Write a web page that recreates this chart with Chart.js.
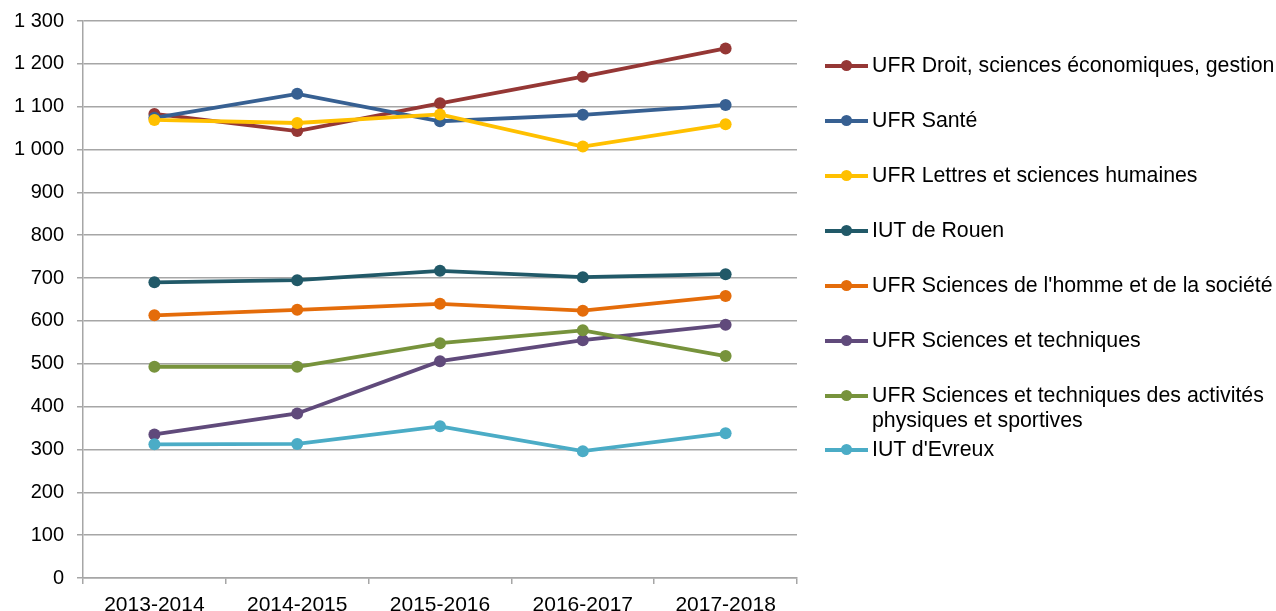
<!DOCTYPE html>
<html>
<head>
<meta charset="utf-8">
<script src="https://cdn.jsdelivr.net/npm/chart.js@4.4.1/dist/chart.umd.min.js"></script>
<style>
    html, body { margin: 0; padding: 0; background: #fff; overflow: hidden; }
    #wrap { position: relative; width: 1276px; height: 611px; }
    #legend {
        position: absolute; left: 825px; top: 53px; width: 450px;
        font-family: 'Liberation Sans', Arial, sans-serif; font-size: 21.3px; line-height: 25px; color: #000;
    }
    .item { display: flex; align-items: flex-start; margin-bottom: 30px; }
    .mark { position: relative; flex: 0 0 43px; height: 25px; margin-right: 4px; }
    .mark .ln { position: absolute; left: 0; right: 0; top: 11px; height: 3.5px; }
    .mark .dot { position: absolute; left: 16px; top: 7.25px; width: 11px; height: 11px; border-radius: 50%; }
</style>
</head>
<body>
<div id="wrap">
    <canvas id="chart" width="1276" height="611"></canvas>
    <div id="legend"></div>
</div>
<script>
// Données
const annees = ['2013-2014', '2014-2015', '2015-2016', '2016-2017', '2017-2018'];

const droit    = [1083, 1043, 1108, 1170, 1236];
const sante    = [1074, 1130, 1066, 1081, 1104];
const lettres  = [1069, 1062, 1082, 1007, 1059];
const iutRouen = [690, 695, 717, 702, 709];
const shs      = [613, 626, 640, 624, 658];
const sciTech  = [335, 384, 506, 555, 591];
const staps    = [493, 493, 548, 578, 518];
const iutEvreux = [312, 313, 354, 296, 338];

const composantes = [
    'UFR Droit, sciences économiques, gestion',
    'UFR Santé',
    'UFR Lettres et sciences humaines',
    'IUT de Rouen',
    "UFR Sciences de l'homme et de la société",
    'UFR Sciences et techniques',
    'UFR Sciences et techniques des activités physiques et sportives',
    "IUT d'Evreux"
];
const series = [droit, sante, lettres, iutRouen, shs, sciTech, staps, iutEvreux];
const couleurs = ['#953735', '#376092', '#FFC000', '#215968', '#E46C0A', '#604A7B', '#77933C', '#4BACC6'];

const police = "'Liberation Sans', Arial, sans-serif";

// Légende HTML à droite
const legend = document.getElementById('legend');
composantes.forEach((nom, i) => {
    const item = document.createElement('div');
    item.className = 'item';
    if (i === 6) item.style.marginBottom = '4px'; // légende sur deux lignes, Excel resserre
    item.innerHTML = '<span class="mark"><span class="ln" style="background:' + couleurs[i] + '"></span>' +
        '<span class="dot" style="background:' + couleurs[i] + '"></span></span><span>' + nom + '</span>';
    legend.appendChild(item);
});

new Chart(document.getElementById('chart'), {
    type: 'line',
    data: {
        labels: annees,
        datasets: series.map((data, i) => ({
            label: composantes[i],
            data: data,
            borderColor: couleurs[i],
            backgroundColor: couleurs[i],
            pointBackgroundColor: couleurs[i],
            pointBorderColor: couleurs[i],
            borderWidth: 3.8,
            pointRadius: 6,
            pointBorderWidth: 0,
            tension: 0,
            order: series.length - i // la dernière série passe au-dessus, comme dans Excel
        }))
    },
    options: {
        responsive: false,
        animation: false,
        layout: { padding: { top: 21, right: 479, left: 0, bottom: 0 } },
        plugins: {
            legend: { display: false },
            tooltip: { enabled: false }
        },
        scales: {
            x: {
                offset: true,
                grid: { offset: true, drawOnChartArea: false, color: '#a6a6a6', lineWidth: 1.5, tickLength: 6 },
                border: { color: '#a6a6a6', width: 1.5 },
                ticks: { color: '#000', font: { family: police, size: 21 }, padding: 9, maxRotation: 0 },
                afterFit: (s) => { s.height = 33; }
            },
            y: {
                min: 0,
                max: 1300,
                ticks: {
                    stepSize: 100,
                    color: '#000',
                    font: { family: police, size: 20 },
                    padding: 13,
                    callback: (v) => String(v).replace(/\B(?=(\d{3})+(?!\d))/g, ' ')
                },
                grid: { color: '#a6a6a6', lineWidth: 1.5, tickLength: 6 },
                border: { color: '#a6a6a6', width: 1.5 },
                afterFit: (s) => {
                    s.width = 83;
                    // on laisse le padding du layout fixer le haut du graphique
                    s.paddingTop = 0;
                    s.paddingBottom = 0;
                }
            }
        }
    }
});
</script>
</body>
</html>
